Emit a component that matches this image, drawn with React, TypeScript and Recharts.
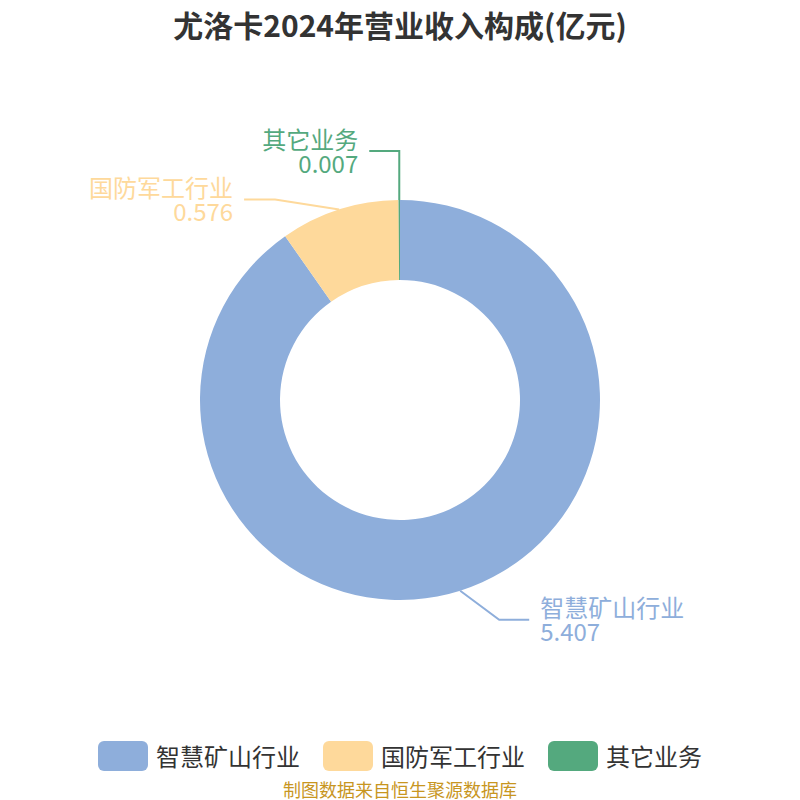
import React from 'react';
import { PieChart, Pie, Cell, Legend } from 'recharts';

const categories = ['智慧矿山行业', '国防军工行业', '其它业务'];
const values = [5.407, 0.576, 0.007];
const valueLabels = ['5.407', '0.576', '0.007'];
const colors = ['#8eaedb', '#fed99b', '#54a97e'];

const titleText = '尤洛卡2024年营业收入构成(亿元)';
const sourceText = '制图数据来自恒生聚源数据库';

const data = categories.map((name, i) => ({ name, value: values[i], label: valueLabels[i], color: colors[i] }));

const FONT = '"Noto Sans CJK SC", "Noto Sans", sans-serif';

// leader line layout: elbow offset from slice edge point, horizontal segment direction/length
const leaderLayout = [
  { dx: 39, dy: 29, h: 30 },
  { dx: -64, dy: -10, h: -31 },
  { dx: 0, dy: -49, h: -30 },
];

const RAD = Math.PI / 180;

const renderLabel = (props: any) => {
  const { cx, cy, midAngle, outerRadius, index } = props;
  const sx = cx + outerRadius * Math.cos(-midAngle * RAD);
  const sy = cy + outerRadius * Math.sin(-midAngle * RAD);
  const lay = leaderLayout[index];
  const ex = sx + lay.dx;
  const ey = sy + lay.dy;
  const hx = ex + lay.h;
  const right = lay.h > 0;
  const tx = hx + (right ? 11 : -11);
  const color = colors[index];
  return (
    <g>
      <polyline points={`${sx},${sy} ${ex},${ey} ${hx},${ey}`} fill="none" stroke={color} strokeWidth={2} />
      <text x={tx} y={ey - 13} textAnchor={right ? 'start' : 'end'} dominantBaseline="central" fill={color} fontSize={24} fontFamily={FONT}>
        {categories[index]}
      </text>
      <text x={tx} y={ey + 11} textAnchor={right ? 'start' : 'end'} dominantBaseline="central" fill={color} fontSize={24} fontFamily={FONT}>
        {valueLabels[index]}
      </text>
    </g>
  );
};

const renderLegend = () => (
  <div style={{ display: 'flex', justifyContent: 'center', alignItems: 'center', fontFamily: FONT }}>
    {categories.map((c, i) => (
      <div key={c} style={{ display: 'flex', alignItems: 'center', marginRight: i < categories.length - 1 ? 23 : 0 }}>
        <div style={{ width: 50, height: 30, borderRadius: 6, background: colors[i] }} />
        <span style={{ marginLeft: 8, fontSize: 24, color: '#333', lineHeight: '30px' }}>{c}</span>
      </div>
    ))}
  </div>
);

export default function App() {
  return (
    <div style={{ position: 'absolute', left: 0, top: 0, width: 800, height: 800, background: '#fff', overflow: 'hidden' }}>
      <div style={{ position: 'absolute', left: 0, top: 4, width: 800, textAlign: 'center', fontFamily: FONT, fontSize: 30, fontWeight: 'bold', color: '#333', lineHeight: '40px' }}>
        {titleText}
      </div>
      <PieChart width={800} height={800} margin={{ top: 0, right: 0, bottom: 0, left: 0 }}>
        <Pie
          data={data}
          dataKey="value"
          nameKey="name"
          cx={400}
          cy={400}
          innerRadius={120}
          outerRadius={200}
          startAngle={90}
          endAngle={-270}
          stroke="none"
          label={renderLabel}
          labelLine={false}
          isAnimationActive={false}
        >
          {data.map((d, i) => (
            <Cell key={d.name} fill={d.color} />
          ))}
        </Pie>
        <Legend content={renderLegend} wrapperStyle={{ position: 'absolute', top: 741, left: 0, width: 800 }} />
      </PieChart>
      <div style={{ position: 'absolute', left: 0, top: 779, width: 800, textAlign: 'center', fontFamily: FONT, fontSize: 18, color: '#c8961f', lineHeight: '20px' }}>
        {sourceText}
      </div>
    </div>
  );
}
